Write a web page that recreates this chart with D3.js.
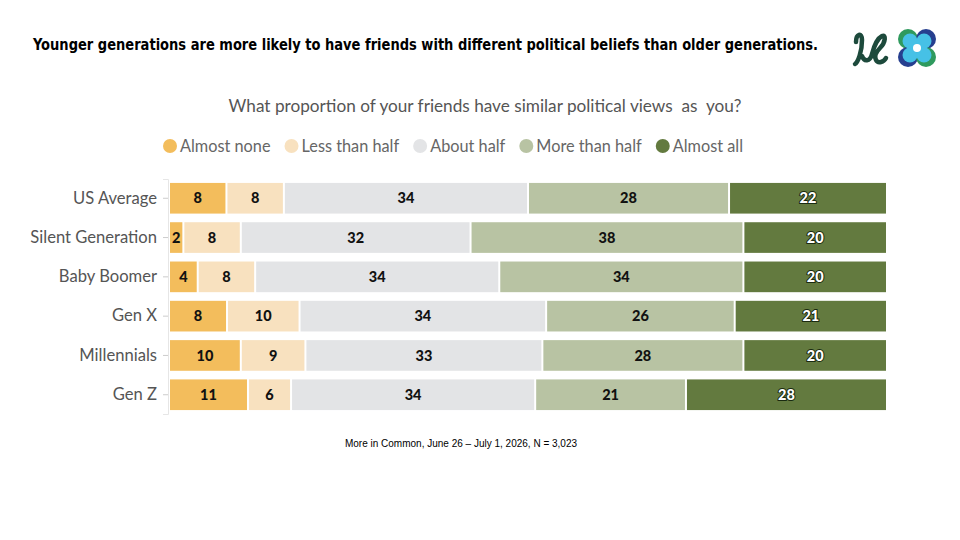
<!DOCTYPE html>
<html>
<head>
<meta charset="utf-8">
<script src="https://cdn.jsdelivr.net/npm/d3@7"></script>
<style>
  body { margin: 0; background: #fff; }
  svg { display: block; }
</style>
</head>
<body>
<div id="chart"></div>
<script>
var generations = ["US Average", "Silent Generation", "Baby Boomer", "Gen X", "Millennials", "Gen Z"];
var answers = ["Almost none", "Less than half", "About half", "More than half", "Almost all"];
var almostNone   = [8, 2, 4, 8, 10, 11];
var lessThanHalf = [8, 8, 8, 10, 9, 6];
var aboutHalf    = [34, 32, 34, 34, 33, 34];
var moreThanHalf = [28, 38, 34, 26, 28, 21];
var almostAll    = [22, 20, 20, 21, 20, 28];
var colors = ["#f3bd5c", "#f8e1bf", "#e3e4e6", "#b8c3a3", "#637a3f"];

var width = 960,
    height = 540;

var rows = generations.map(function (g, i) {
    return {
        gen: g,
        "Almost none": almostNone[i],
        "Less than half": lessThanHalf[i],
        "About half": aboutHalf[i],
        "More than half": moreThanHalf[i],
        "Almost all": almostAll[i]
    };
});

var series = d3.stack()
    .keys(answers)
    .offset(d3.stackOffsetExpand)(rows);

var x = d3.scaleLinear().domain([0, 1]).range([170, 888]);
var y = d3.scaleBand().domain(generations).range([179, 414]).paddingInner(0.22).paddingOuter(0.1);
var color = d3.scaleOrdinal().domain(answers).range(colors);

var svg = d3.select("#chart").append("svg")
    .attr("width", width)
    .attr("height", height);

// title
svg.append("text")
    .attr("x", 33)
    .attr("y", 50)
    .attr("font-family", "Liberation Sans Narrow, DejaVu Sans Condensed, sans-serif")
    .attr("font-weight", "bold")
    .attr("font-size", 16.5)
    .attr("textLength", 785)
    .attr("lengthAdjust", "spacingAndGlyphs")
    .attr("fill", "#000")
    .text("Younger generations are more likely to have friends with different political beliefs than older generations.");

// logo
var logo = svg.append("g").attr("transform", "translate(852,28)");
logo.append("path")
    .attr("d", "M4,14 C4,6 10,4 10,12 C10,24 6,34 3,36 M10,28 C12,34 18,34 20,26 C22,18 26,10 30,8 C34,6 34,14 28,20 C24,24 22,28 24,32 C26,36 32,34 34,30")
    .attr("fill", "none")
    .attr("stroke", "#1d4a3c")
    .attr("stroke-width", 4.5)
    .attr("stroke-linecap", "round");
var quad = svg.append("g").attr("transform", "translate(917,48)");
[[-9, -9, "#2f9a5e"], [9, -9, "#263f8f"], [-9, 9, "#263f8f"], [9, 9, "#2f9a5e"]].forEach(function (c) {
    quad.append("circle").attr("cx", c[0]).attr("cy", c[1]).attr("r", 10).attr("fill", c[2]);
});
[[-7, -7], [7, -7], [-7, 7], [7, 7]].forEach(function (c) {
    quad.append("circle").attr("cx", c[0]).attr("cy", c[1]).attr("r", 7.5).attr("fill", "#46c1e6");
});
quad.append("circle").attr("r", 4).attr("fill", "#fff");

// question
svg.append("text")
    .attr("x", 485)
    .attr("y", 112)
    .attr("text-anchor", "middle")
    .attr("font-family", "Lato, sans-serif")
    .attr("font-size", 17.2)
    .attr("fill", "#555")
    .attr("xml:space", "preserve")
    .text("What proportion of your friends have similar political views  as  you?");

// legend
var legend = svg.append("g")
    .attr("font-family", "Lato, sans-serif")
    .attr("font-size", 16.3)
    .attr("fill", "#666");
var lx = 170;
answers.forEach(function (a) {
    var g = legend.append("g").attr("transform", "translate(" + lx + ",146)");
    g.append("circle").attr("r", 7).attr("fill", color(a));
    var t = g.append("text").attr("x", 10).attr("dy", "0.35em").text(a);
    lx += 10 + t.node().getComputedTextLength() + 21;
});

// axis
var axis = svg.append("g")
    .attr("transform", "translate(" + (x(0) - 2) + ",0)")
    .call(d3.axisLeft(y).tickSize(5).tickPadding(6));
axis.select(".domain").attr("stroke", "#e6e6e6");
axis.selectAll(".tick line").attr("stroke", "#ccc");
axis.selectAll(".tick text")
    .attr("font-family", "Lato, sans-serif")
    .attr("font-size", 16.6)
    .attr("fill", "#555");

// bars
var layer = svg.selectAll("g.layer")
    .data(series)
    .enter().append("g")
    .attr("class", "layer")
    .attr("fill", function (d) { return color(d.key); });

layer.selectAll("rect")
    .data(function (d) { return d; })
    .enter().append("rect")
    .attr("x", function (d) { return x(d[0]); })
    .attr("y", function (d) { return y(d.data.gen); })
    .attr("width", function (d) { return Math.max(0, x(d[1]) - x(d[0]) - 2); })
    .attr("height", y.bandwidth());

layer.selectAll("text")
    .data(function (d) {
        return d.map(function (p) { return { p: p, key: d.key }; });
    })
    .enter().append("text")
    .attr("x", function (d) { return (x(d.p[0]) + x(d.p[1]) - 2) / 2; })
    .attr("y", function (d) { return y(d.p.data.gen) + y.bandwidth() / 2; })
    .attr("dy", "0.36em")
    .attr("text-anchor", "middle")
    .attr("font-family", "Lato, sans-serif")
    .attr("font-weight", "900")
    .attr("font-size", 14.5)
    .attr("fill", function (d) { return d.key === "Almost all" ? "#fff" : "#111"; })
    .attr("stroke", function (d) { return d.key === "Almost all" ? "#1a2a10" : "none"; })
    .attr("stroke-width", 2)
    .attr("paint-order", "stroke")
    .text(function (d) { return d.p.data[d.key]; });

// source
svg.append("text")
    .attr("x", 461)
    .attr("y", 447)
    .attr("text-anchor", "middle")
    .attr("font-family", "Liberation Sans, Arial, sans-serif")
    .attr("font-size", 10)
    .attr("fill", "#000")
    .text("More in Common, June 26 – July 1, 2026, N = 3,023");
</script>
</body>
</html>
